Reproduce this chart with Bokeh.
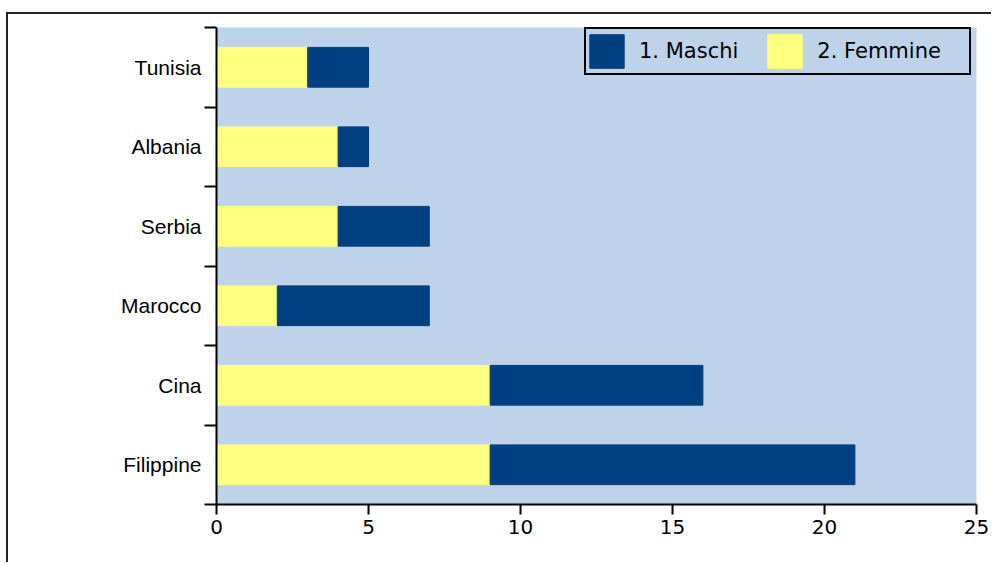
from bokeh.plotting import figure
from bokeh.models import (ColumnDataSource, Range1d, FixedTicker, Legend, LegendItem)
from bokeh.embed import file_html
from bokeh.resources import INLINE

categories = ["Filippine", "Cina", "Marocco", "Serbia", "Albania", "Tunisia"]
maschi = [12, 7, 5, 3, 1, 2]
femmine = [9, 9, 2, 4, 4, 3]
x_ticks = [0, 5, 10, 15, 20, 25]
series_labels = ["1. Maschi", "2. Femmine"]

BLUE = "#004080"
YELLOW = "#FFFF80"
BG = "#BED3E9"

ypos = [i + 0.5 for i in range(len(categories))]
src = ColumnDataSource(dict(y=ypos, femmine=femmine, maschi=maschi))

p = figure(width=985, height=550, output_backend="svg", toolbar_location=None,
           x_range=Range1d(0, 25), y_range=Range1d(0, len(categories)),
           min_border_left=208, min_border_right=17, min_border_top=13, min_border_bottom=60,
           background_fill_color=BG, border_fill_color="white",
           styles={"border-left": "2px solid #222", "border-top": "2px solid #222",
                   "margin-left": "6px", "margin-top": "12px"})
p.outline_line_color = None
p.grid.visible = False

rs = p.hbar_stack(["femmine", "maschi"], y="y", height=0.5, color=[YELLOW, BLUE],
                  line_color=[YELLOW, BLUE], source=src)
r_f, r_m = rs

# empty, invisible renderer used only to size the legend frame
r_box = p.hbar(y=[], right=[], height=0.5, fill_alpha=0, line_alpha=0)

# x axis
xa = p.xaxis[0]
xa.ticker = FixedTicker(ticks=x_ticks, minor_ticks=[])
xa.axis_line_color = "black"
xa.axis_line_width = 2
xa.major_tick_line_color = "black"
xa.major_tick_line_width = 2
xa.major_tick_out = 10
xa.major_tick_in = 0
xa.major_label_standoff = 5
xa.major_label_text_font = "DejaVu Sans"
xa.major_label_text_font_size = "20px"
xa.major_label_text_color = "black"

# y axis
ya = p.yaxis[0]
ya.ticker = FixedTicker(ticks=ypos, minor_ticks=list(range(len(categories) + 1)))
ya.major_label_overrides = {y: c for y, c in zip(ypos, categories)}
ya.axis_line_color = "black"
ya.axis_line_width = 2
ya.major_tick_line_color = None
ya.major_tick_out = 12
ya.major_tick_in = 0
ya.minor_tick_line_color = "black"
ya.minor_tick_line_width = 2
ya.minor_tick_out = 12
ya.minor_tick_in = 0
ya.major_label_standoff = 3
ya.major_label_text_font = "Liberation Sans"
ya.major_label_text_font_size = "21px"
ya.major_label_text_color = "black"

# legend frame
frame_legend = Legend(items=[LegendItem(label=" ", renderers=[r_box])],
                      location=(368, 429), orientation="horizontal", margin=0,
                      glyph_width=43, glyph_height=40, label_standoff=0,
                      label_width=336, padding=2, label_text_font_size="12px",
                      border_line_color="black", border_line_width=2,
                      border_line_alpha=1, background_fill_alpha=0)
p.add_layout(frame_legend)

legend = Legend(items=[LegendItem(label=series_labels[0], renderers=[r_m]),
                       LegendItem(label=series_labels[1], renderers=[r_f])],
                location=(369, 432), orientation="horizontal", margin=0,
                glyph_width=43, glyph_height=42, label_standoff=11, spacing=25,
                padding=1,
                label_text_font="DejaVu Sans", label_text_font_size="21px",
                label_text_color="black", border_line_color=None,
                background_fill_alpha=0)
p.add_layout(legend)

open("out.html", "w").write(file_html(p, INLINE))
